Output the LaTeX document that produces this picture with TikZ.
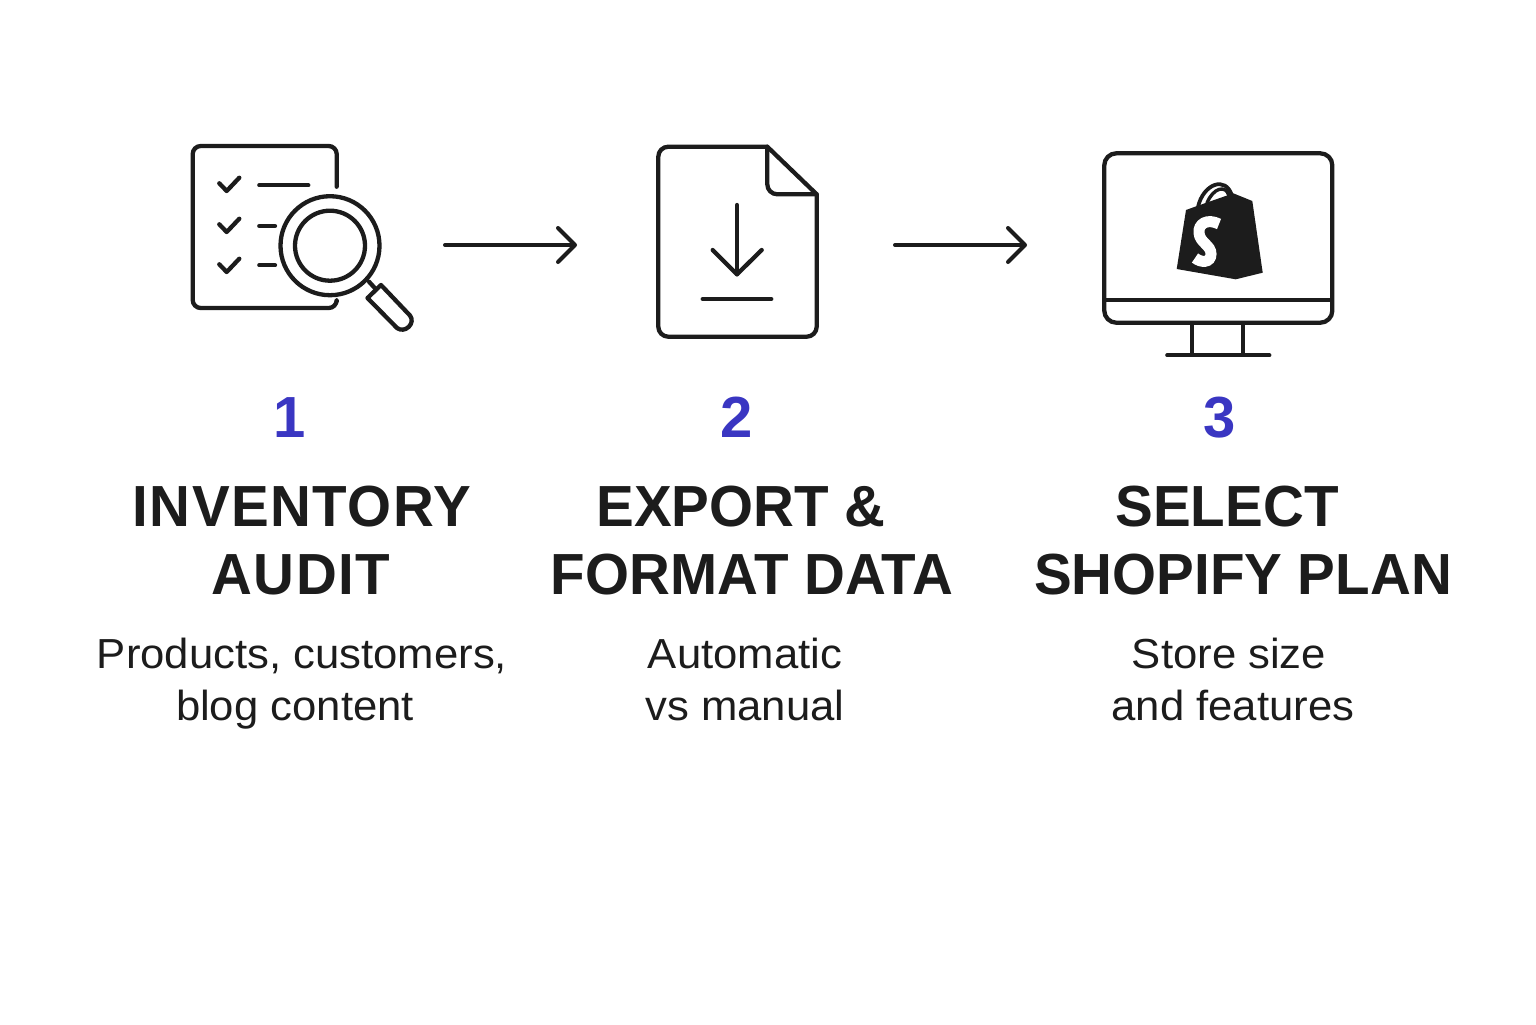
\documentclass[tikz,border=0pt]{standalone}
\usepackage{fontspec}
\setmainfont{Liberation Sans}
\newfontfamily\numfont{Liberation Sans Bold}
\newfontfamily\headfont[FakeStretch=0.975]{Liberation Sans Bold}
\newfontfamily\headwidefont[LetterSpace=2.5,FakeStretch=0.975]{Liberation Sans Bold}
\newfontfamily\bodyfont[FakeStretch=1.04]{Liberation Sans}
\usetikzlibrary{arrows.meta}
\definecolor{ink}{HTML}{1C1C1C}
\definecolor{stepblue}{HTML}{3A36C2}
\begin{document}
\begin{tikzpicture}[
	x=0.5pt, y=-0.5pt,
	icon/.style={draw=ink, line width=2.15pt, line cap=round, line join=round},
	flow/.style={draw=ink, line width=2pt, line cap=round, -{Straight Barb[round,length=8.5pt,width=17pt,line width=2pt]}},
	stepnum/.style={anchor=base, inner sep=0pt, text=stepblue, font=\numfont\fontsize{29pt}{29pt}\selectfont},
	heading/.style={anchor=base, inner sep=0pt, text=ink, font=\headfont\fontsize{29pt}{29pt}\selectfont},
	headwide/.style={heading, font=\headwidefont\fontsize{29pt}{29pt}\selectfont},
	body/.style={anchor=base, inner sep=0pt, text=ink, font=\bodyfont\fontsize{21pt}{21pt}\selectfont}
	]
	\useasboundingbox (0,0) rectangle (1536,1024);
	
	% checklist with magnifier
	\draw[icon] (336.7,186.7) -- (336.7,154) arc[start angle=0, end angle=-90, radius=8] -- (200.7,146)
	arc[start angle=-90, end angle=-180, radius=8] -- (192.7,300) arc[start angle=180, end angle=90, radius=8]
	-- (328.7,308) arc[start angle=90, end angle=0, radius=8] -- (336.7,301.7);
	\foreach \y in {0,41,81} {
		\draw[icon] (219.3,183.3+\y) -- (226.7,191+\y) -- (239.3,177.7+\y);
	}
	\draw[icon] (259.3,185.3) -- (308.3,185.3);
	\draw[icon] (259.3,226) -- (275,226);
	\draw[icon] (259.3,265.3) -- (275,265.3);
	\draw[icon] (330,245.7) circle[radius=49.5];
	\draw[icon] (330,245.7) circle[radius=35];
	\draw[icon] (369,281.7) -- (376,289.3);
	\draw[icon] (381,285) -- (410,315.5) .. controls (416,323) and (405,334) .. (397,328) -- (367.5,298) -- cycle;
	
	\coordinate (auditEnd) at (445,245);
	\coordinate (exportStart) at (577,245);
	\draw[flow] (auditEnd) -- (exportStart);
	
	% file with download arrow
	\draw[icon] (767.3,146.7) -- (668.3,146.7) arc[start angle=-90, end angle=-180, radius=10] -- (658.3,326.7)
	arc[start angle=180, end angle=90, radius=10] -- (806.7,336.7) arc[start angle=90, end angle=0, radius=10]
	-- (816.7,194.3) -- cycle;
	\draw[icon] (767.3,146.7) -- (767.3,184.3) arc[start angle=180, end angle=90, radius=10] -- (816.7,194.3);
	\draw[icon] (737,205) -- (737,274.3);
	\draw[icon] (712.7,250) -- (737,274.3) -- (761.7,250);
	\draw[icon] (702.7,299) -- (771.3,299);
	
	\coordinate (exportEnd) at (895,245);
	\coordinate (planStart) at (1027,245);
	\draw[flow] (exportEnd) -- (planStart);
	
	% monitor with shop bag
	\draw[icon] (1116.3,153.3) -- (1320.3,153.3) arc[start angle=-90, end angle=0, radius=12] -- (1332.3,310.7)
	arc[start angle=0, end angle=90, radius=12] -- (1116.3,322.7) arc[start angle=90, end angle=180, radius=12]
	-- (1104.3,165.3) arc[start angle=180, end angle=270, radius=12] -- cycle;
	\draw[icon, line cap=butt] (1104.3,299.7) -- (1332.3,299.7);
	\draw[icon, line cap=butt] (1192.3,322.7) -- (1192.3,355);
	\draw[icon, line cap=butt] (1243.3,322.7) -- (1243.3,355);
	\draw[icon] (1167.3,355.3) -- (1269.3,355.3);
	\fill[ink] (1176.7,269) -- (1186,210) -- (1197,206) -- (1233.3,193.3) -- (1252.3,201) -- (1262.7,272.7) -- (1235.7,279.3) -- cycle;
	\draw[icon, line width=1.9pt] (1198,207) .. controls (1203,184) and (1226,175) .. (1232,196);
	\draw[icon, line width=1.7pt] (1207,203) .. controls (1213,188) and (1226,184) .. (1229,196);
	\draw[white, line width=5.5pt] (1219,224) .. controls (1207,218) and (1198,224) .. (1199,233)
	.. controls (1200,243) and (1211,245) .. (1211,254) .. controls (1211,263) and (1201,263) .. (1195,258);
	
	\node[stepnum] (numA) at (290,437) {1};
	\node[stepnum] (numB) at (737,437) {2};
	\node[stepnum] (numC) at (1220,437) {3};
	
	\node[headwide] (auditA) at (302,526.5) {INVENTORY};
	\node[headwide] (auditB) at (301,594.5) {AUDIT};
	\node[heading] (exportA) at (741,526.5) {EXPORT \&};
	\node[heading] (exportB) at (752,594.5) {FORMAT DATA};
	\node[heading] (planA) at (1227,526.5) {SELECT};
	\node[heading] (planB) at (1243,594.5) {SHOPIFY PLAN};
	
	\node[body] (auditC) at (302,668) {Products, customers,};
	\node[body] (auditD) at (295,720) {blog content};
	\node[body] (exportC) at (745,668) {Automatic};
	\node[body] (exportD) at (745,720) {vs manual};
	\node[body] (planC) at (1229,668) {Store size};
	\node[body] (planD) at (1233,720) {and features};
\end{tikzpicture}
\end{document}
